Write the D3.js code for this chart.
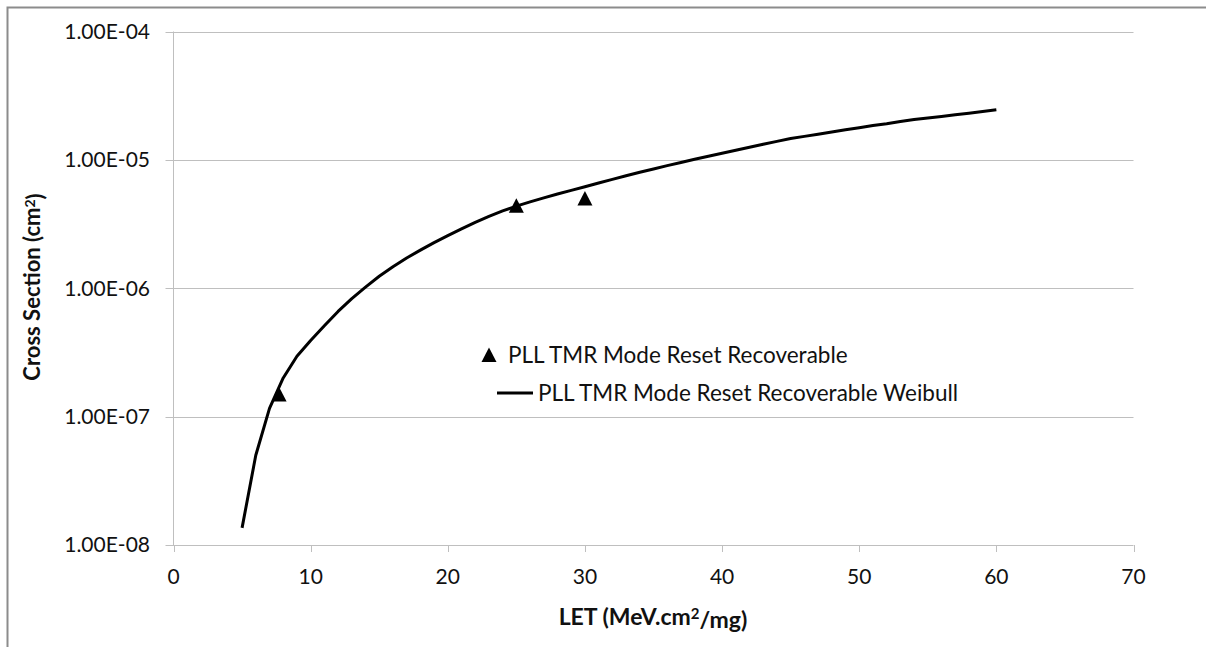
<!DOCTYPE html>
<html>
<head>
<meta charset="utf-8">
<script src="https://cdn.jsdelivr.net/npm/d3@7"></script>
<style>
  body { margin: 0; background: #fff; overflow: hidden; }
  svg { display: block; }
</style>
</head>
<body>
<div id="chart"></div>
<script>
"use strict";

// Measured points (LET, cross section)
const pointLET = [7.7, 25, 30];
const pointXS = [1.49e-7, 4.4e-6, 5.0e-6];

// Weibull fit curve
const weibullLET = [5, 6, 7, 8, 9, 10, 11, 12, 13, 14, 15, 16, 17, 18, 19, 20,
  21, 22, 23, 24, 25, 26, 27, 28, 29, 30, 31, 32, 33, 34, 35, 36, 37, 38, 39, 40,
  41, 42, 43, 44, 45, 46, 47, 48, 49, 50, 51, 52, 53, 54, 55, 56, 57, 58, 59, 60];
const weibullXS = [1.36e-8, 5.0e-8, 1.16e-7, 2.0e-7, 2.95e-7, 3.92e-7, 5.1e-7, 6.6e-7, 8.3e-7, 1.02e-6,
  1.24e-6, 1.47e-6, 1.72e-6, 1.98e-6, 2.265e-6, 2.57e-6, 2.9e-6, 3.26e-6, 3.63e-6, 4.0e-6,
  4.365e-6, 4.71e-6, 5.06e-6, 5.42e-6, 5.79e-6, 6.18e-6, 6.61e-6, 7.05e-6, 7.52e-6, 8.0e-6,
  8.49e-6, 9.02e-6, 9.55e-6, 1.01e-5, 1.067e-5, 1.125e-5, 1.19e-5, 1.256e-5, 1.324e-5, 1.393e-5,
  1.466e-5, 1.524e-5, 1.585e-5, 1.648e-5, 1.714e-5, 1.78e-5, 1.85e-5, 1.91e-5, 1.99e-5, 2.06e-5,
  2.12e-5, 2.18e-5, 2.25e-5, 2.31e-5, 2.38e-5, 2.46e-5];

const xTicks = [0, 10, 20, 30, 40, 50, 60, 70];
const yTicks = [1e-8, 1e-7, 1e-6, 1e-5, 1e-4];
const yTickLabels = ["1.00E-08", "1.00E-07", "1.00E-06", "1.00E-05", "1.00E-04"];

const seriesNames = ["PLL TMR Mode Reset Recoverable", "PLL TMR Mode Reset Recoverable Weibull"];

const width = 1206, height = 647;
const font = "Lato, 'Open Sans', sans-serif";
const gridColor = "#bfbfbf";

let svg = d3.select("#chart").append("svg")
    .attr("width", width)
    .attr("height", height);

// Outer chart border: only top and left edges are inside the picture
svg.append("path")
    .attr("d", "M7.5," + height + "V7.5H" + width)
    .style("fill", "none")
    .style("stroke", "#8c8c8c")
    .style("stroke-width", "2px");

let x = d3.scaleLinear().domain([0, 70]).range([173.5, 1133.5]);
let y = d3.scaleLog().domain([1e-8, 1e-4]).range([545, 31.5]);

// Horizontal gridlines, extending left as tick marks
svg.append("g").selectAll("line").data(yTicks).enter().append("line")
    .attr("x1", 165.5).attr("x2", x(70))
    .attr("y1", d => Math.round(y(d)) + 0.5)
    .attr("y2", d => Math.round(y(d)) + 0.5)
    .style("stroke", gridColor)
    .style("stroke-width", "1px");

// Y axis line
svg.append("line")
    .attr("x1", x(0)).attr("x2", x(0))
    .attr("y1", y(1e-4)).attr("y2", y(1e-8))
    .style("stroke", gridColor)
    .style("stroke-width", "1px");

// X tick marks
svg.append("g").selectAll("line").data(xTicks).enter().append("line")
    .attr("x1", d => Math.round(x(d)) + 0.5).attr("x2", d => Math.round(x(d)) + 0.5)
    .attr("y1", y(1e-8)).attr("y2", y(1e-8) + 7)
    .style("stroke", gridColor)
    .style("stroke-width", "1px");

// Y tick labels
svg.append("g").selectAll("text").data(yTicks).enter().append("text")
    .attr("x", 150)
    .attr("y", d => y(d))
    .attr("dy", "0.35em")
    .style("text-anchor", "end")
    .style("font-family", font)
    .style("font-size", "21px")
    .style("fill", "#111")
    .text((d, i) => yTickLabels[i]);

// X tick labels
svg.append("g").selectAll("text").data(xTicks).enter().append("text")
    .attr("x", d => x(d))
    .attr("y", 577)
    .attr("dy", "0.35em")
    .style("text-anchor", "middle")
    .style("font-family", font)
    .style("font-size", "21px")
    .style("fill", "#111")
    .text(d => d);

// Axis titles
let yTitle = svg.append("text")
    .attr("transform", "translate(32.5,287) rotate(-90)")
    .attr("dy", "0.35em")
    .style("text-anchor", "middle")
    .style("font-family", font)
    .style("font-size", "22px")
    .style("font-weight", "bold")
    .style("fill", "#111");
yTitle.append("tspan").text("Cross Section (cm");
yTitle.append("tspan").attr("dy", "-0.4em").style("font-size", "14px").text("2");
yTitle.append("tspan").attr("dy", "0.4em").text(")");

let xTitle = svg.append("text")
    .attr("x", 653).attr("y", 617)
    .attr("dy", "0.35em")
    .style("text-anchor", "middle")
    .style("font-family", font)
    .style("font-size", "23px")
    .style("font-weight", "bold")
    .style("fill", "#111");
xTitle.append("tspan").text("LET (MeV.cm");
xTitle.append("tspan").attr("dy", "-0.4em").style("font-size", "15px").text("2");
xTitle.append("tspan").attr("dy", "0.4em").text("/mg)");

// Weibull curve
let weibull = weibullLET.map((d, i) => [d, weibullXS[i]]);
svg.append("path")
    .datum(weibull)
    .attr("d", d3.line().x(d => x(d[0])).y(d => y(d[1])))
    .style("fill", "none")
    .style("stroke", "#000")
    .style("stroke-width", "3px")
    .style("stroke-linejoin", "round");

// Triangle markers
const tri = "M0,-7.5L7.5,7L-7.5,7Z";
svg.append("g").selectAll("path").data(pointLET).enter().append("path")
    .attr("transform", (d, i) => "translate(" + x(d) + "," + y(pointXS[i]) + ")")
    .attr("d", tri)
    .style("fill", "#000");

// Legend
let legend = svg.append("g");
legend.append("path")
    .attr("transform", "translate(489,355)")
    .attr("d", tri)
    .style("fill", "#000");
legend.append("text")
    .attr("x", 508).attr("y", 355)
    .attr("dy", "0.35em")
    .style("font-family", font)
    .style("font-size", "22.5px")
    .style("fill", "#111")
    .text(seriesNames[0]);
legend.append("line")
    .attr("x1", 497).attr("x2", 533)
    .attr("y1", 393).attr("y2", 393)
    .style("stroke", "#000")
    .style("stroke-width", "3px");
legend.append("text")
    .attr("x", 538).attr("y", 393)
    .attr("dy", "0.35em")
    .style("font-family", font)
    .style("font-size", "22.5px")
    .style("fill", "#111")
    .text(seriesNames[1]);
</script>
</body>
</html>
